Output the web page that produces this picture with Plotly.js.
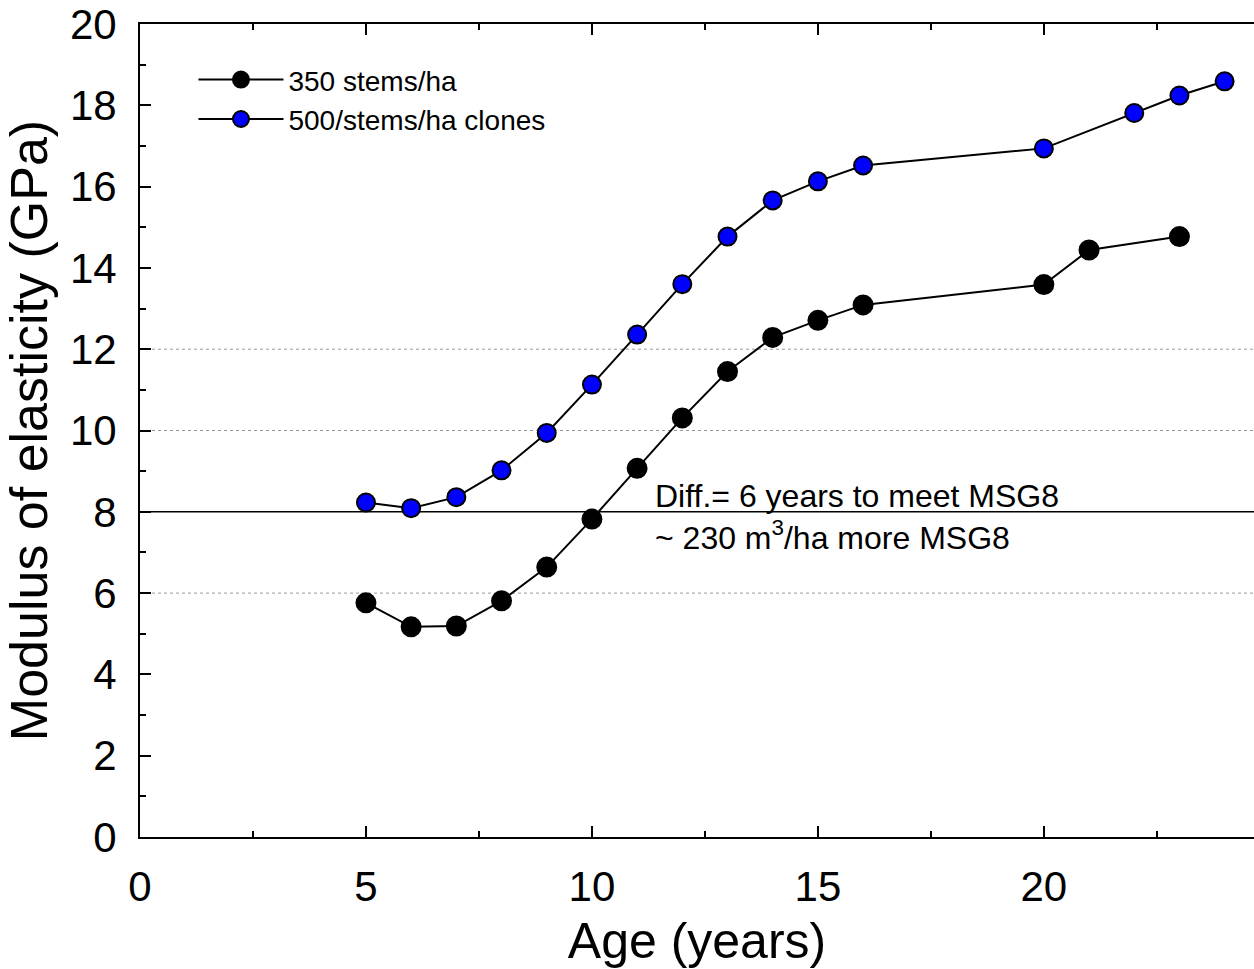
<!DOCTYPE html>
<html>
<head>
<meta charset="utf-8">
<script src="https://cdn.plot.ly/plotly-3.0.1.min.js"></script>
<style>html,body{margin:0;padding:0;background:#fff;}#chart{width:1254px;height:969px;}</style>
</head>
<body>
<div id="chart"></div>
<script>
const ages350 = [5, 6, 7, 8, 9, 10, 11, 12, 13, 14, 15, 16, 20, 21, 23];
const moe350 = [5.76, 5.17, 5.19, 5.81, 6.64, 7.82, 9.07, 10.31, 11.45, 12.29, 12.71, 13.09, 13.59, 14.44, 14.77];
const ages500 = [5, 6, 7, 8, 9, 10, 11, 12, 13, 14, 15, 16, 20, 22, 23, 24];
const moe500 = [8.23, 8.09, 8.36, 9.02, 9.94, 11.13, 12.36, 13.6, 14.77, 15.66, 16.13, 16.52, 16.94, 17.81, 18.24, 18.59];
const name350 = "350 stems/ha";
const name500 = "500/stems/ha clones";
const gridDotted = [6, 10, 12];
const msgLine = 8;
const noteText = "Diff.= 6 years to meet MSG8<br>~ 230 m<sup>3</sup>/ha more MSG8";

const FONT = "Liberation Sans, Arial, Helvetica, sans-serif";

const traces = [
  {x: ages350, y: moe350, name: name350, mode: "lines+markers", type: "scatter",
   line: {color: "#000", width: 2},
   marker: {color: "#000", size: 19, line: {color: "#000", width: 2}}},
  {x: ages500, y: moe500, name: name500, mode: "lines+markers", type: "scatter",
   line: {color: "#000", width: 2},
   marker: {color: "#0000ff", size: 18, line: {color: "#000", width: 2}}}
];

const shapes = gridDotted.map(v => ({type: "line", xref: "paper", x0: 0, x1: 1, yref: "y", y0: v, y1: v,
  line: {color: "#999", width: 1, dash: "dot"}, layer: "below"}));
shapes.push({type: "line", xref: "paper", x0: 0, x1: 1, yref: "y", y0: msgLine, y1: msgLine,
  line: {color: "#000", width: 1.5}, layer: "below"});

const layout = {
  width: 1254, height: 969,
  margin: {l: 140, r: 0, t: 24, b: 132},
  paper_bgcolor: "#fff", plot_bgcolor: "#fff",
  font: {family: FONT, color: "#000"},
  showlegend: true,
  legend: {x: 0.048, y: 0.962, xanchor: "left", yanchor: "top", bgcolor: "rgba(0,0,0,0)",
    font: {size: 28, family: FONT, color: "#000"}, itemwidth: 85, tracegroupgap: 0},
  xaxis: {range: [0, 24.65], dtick: 5, tick0: 0, showgrid: false, zeroline: false,
    showline: true, linecolor: "#000", linewidth: 2, mirror: "ticks",
    ticks: "inside", ticklen: 11, tickwidth: 2, tickcolor: "#000",
    minor: {dtick: 2.5, ticks: "inside", ticklen: 6, tickwidth: 2, tickcolor: "#000", showgrid: false},
    tickfont: {size: 42, family: FONT, color: "#000"}, ticklabelstandoff: 12,
    title: {text: "Age (years)", font: {size: 50, family: FONT, color: "#000"}, standoff: 14}},
  yaxis: {range: [0, 20], dtick: 2, tick0: 0, showgrid: false, zeroline: false,
    showline: true, linecolor: "#000", linewidth: 2,
    ticks: "inside", ticklen: 11, tickwidth: 2, tickcolor: "#000",
    minor: {dtick: 1, ticks: "inside", ticklen: 6, tickwidth: 2, tickcolor: "#000", showgrid: false},
    tickfont: {size: 42, family: FONT, color: "#000"}, ticklabelstandoff: 13,
    title: {text: "Modulus of elasticity (GPa)", font: {size: 52, family: FONT, color: "#000"}, standoff: 10}},
  shapes: shapes,
  annotations: [{x: 11.36, y: 7.87, xref: "x", yref: "y", xanchor: "left", yanchor: "middle",
    align: "left", showarrow: false, text: noteText,
    font: {size: 32, family: FONT, color: "#000"}}]
};

Plotly.newPlot("chart", traces, layout, {displayModeBar: false, staticPlot: true});
</script>
</body>
</html>
